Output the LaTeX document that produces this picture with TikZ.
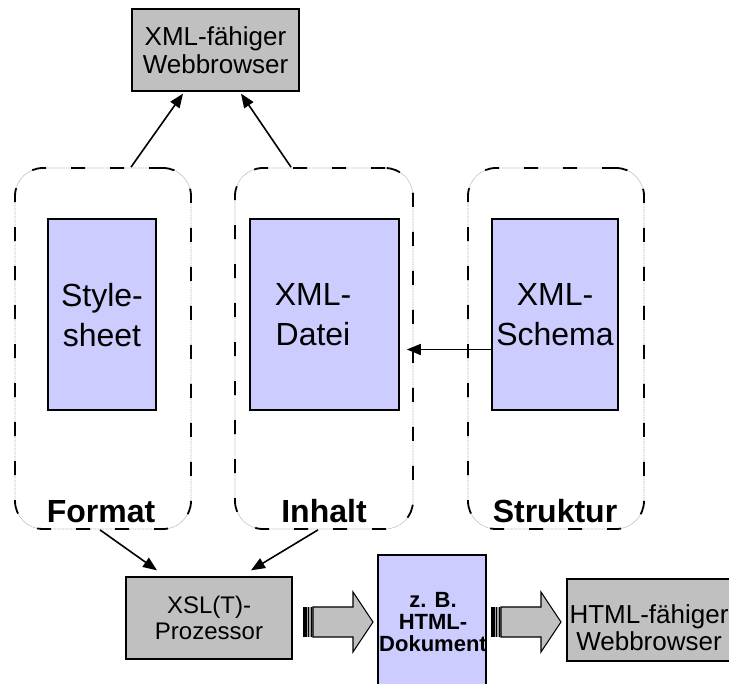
\documentclass[tikz,border=0pt]{standalone}
\usepackage{fontspec}
\setmainfont{Liberation Sans}
\usetikzlibrary{arrows.meta}
\definecolor{lav}{HTML}{CCCCFF}
\definecolor{greybox}{HTML}{C0C0C0}
\tikzset{
  graybox/.style={rectangle, draw=black, line width=1.3pt, fill=greybox, inner sep=0pt, align=center},
  lavbox/.style={rectangle, draw=black, line width=1.6pt, fill=lav, inner sep=0pt, align=center},
  group/.style={rectangle, rounded corners=28pt, minimum width=176pt, minimum height=361pt,
    preaction={draw=gray!55, line width=0.7pt, dash pattern=on 1pt off 0.6pt},
    draw=black, line width=1.8pt, dash pattern=on 14pt off 25pt},
  bigtext/.style={font=\fontsize{32}{40}\selectfont, align=center, inner sep=0pt},
  grouplabel/.style={font=\bfseries\fontsize{32}{38}\selectfont, anchor=base, inner sep=0pt},
  arr/.style={-{Triangle[length=14pt,width=11pt]}, line width=1.6pt},
  fatarrow/.style={fill=greybox, draw=black, line width=1.1pt, line join=miter},
}
\begin{document}
\begin{tikzpicture}[x=1pt,y=-1pt]
\useasboundingbox (0,0) rectangle (729,684);
\clip (0,0) rectangle (729,684);

% three dashed groups
\node[group] (fmt) at (103,348.5) {};
\node[group, minimum width=178pt] (inh) at (324,348.5) {};
\node[group] (str) at (556,348.5) {};

% inner documents
\node[lavbox, minimum width=108pt, minimum height=191pt] (style) at (102,314.5) {};
\node[bigtext] (styletxt) at (102,315) {Style-\\sheet};
\node[lavbox, minimum width=149pt, minimum height=191pt] (datei) at (324.5,314.5) {};
\node[bigtext] (dateitxt) at (313,315) {XML-\\Datei};
\node[lavbox, minimum width=126pt, minimum height=191pt] (schema) at (555,314.5) {};
\node[bigtext] (schematxt) at (555,315) {XML-\\Schema};

% group labels
\node[grouplabel] (fmtlbl) at (101,523) {Format};
\node[grouplabel] (inhlbl) at (324,523) {Inhalt};
\node[grouplabel] (strlbl) at (555,523) {Struktur};

% XML browser on top
\node[graybox, minimum width=167pt, minimum height=82pt,
      font=\fontsize{26}{28}\selectfont] (xmlwb) at (215.5,50) {XML-fähiger\\Webbrowser};

% XSL processor
\node[graybox, minimum width=166pt, minimum height=82pt,
      font=\fontsize{24}{26}\selectfont] (xsl) at (209,618) {XSL(T)-\\Prozessor};

% HTML document
\node[lavbox, line width=1.3pt, minimum width=108pt, minimum height=145pt] (doku) at (432,627.5) {};
\node[font=\bfseries\fontsize{22}{22}\selectfont, align=center, inner sep=0pt] (dokutxt) at (433,622) {z. B.\\HTML-\\Dokument};

% HTML browser
\node[graybox, minimum width=173pt, minimum height=82pt] (htmlwb) at (653.5,620) {};
\node[font=\fontsize{26}{27}\selectfont, align=center, inner sep=0pt] (htmlwbtxt) at (649,628) {HTML-fähiger\\Webbrowser};

% connectors
\draw[arr] ([xshift=28pt]fmt.north) -- ([xshift=-32.5pt,yshift=-2pt]xmlwb.south);
\draw[arr] ([xshift=-33pt]inh.north) -- ([xshift=25.5pt,yshift=-2pt]xmlwb.south);
\draw[arr] ([yshift=-35pt]schema.west) -- ([yshift=-35pt,xshift=7pt]datei.east);
\draw[arr] ([xshift=-3pt]fmt.south) -- ([xshift=-52pt,yshift=6pt]xsl.north);
\draw[arr] ([xshift=-6pt]inh.south) -- ([xshift=42pt,yshift=6pt]xsl.north);

% block arrows with striped tails
\foreach \x in {303,491}{
  \begin{scope}[shift={(\x,0)}]
    \fill[black] (0,607) rectangle (3.5,637);
    \fill[gray!70] (3.5,607) rectangle (5,637);
    \fill[black] (5,607) rectangle (6.3,637);
    \fill[gray!70] (6.3,607) rectangle (7.6,637);
    \fill[black] (7.6,607) rectangle (8.8,637);
    \fill[gray!70] (8.8,607) rectangle (10,637);
    \draw[fatarrow] (10,607) -- (50,607) -- (50,592) -- (70,622) -- (50,652)
      -- (50,637) -- (10,637) -- cycle;
  \end{scope}
}
\end{tikzpicture}
\end{document}
